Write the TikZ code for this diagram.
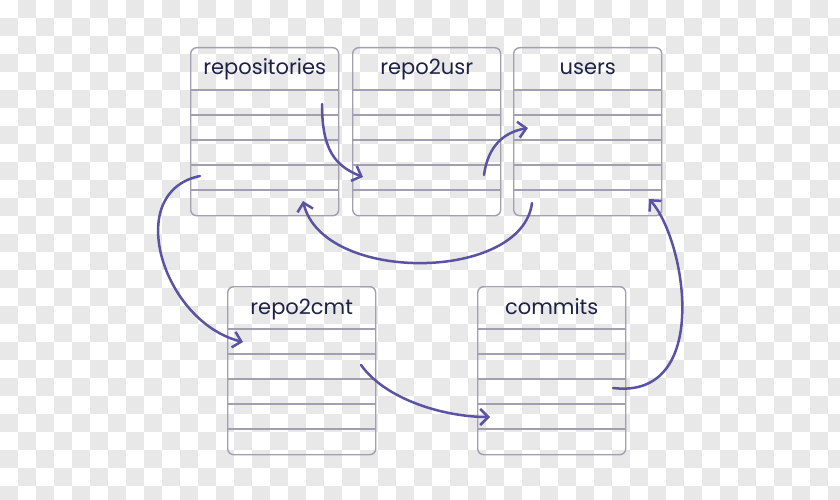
\documentclass[tikz,border=0pt]{standalone}
\usepackage{fontspec}
\setmainfont{Poppins}
\usetikzlibrary{arrows.meta,calc}

\definecolor{tblline}{HTML}{A19FB0}
\definecolor{tbltext}{HTML}{1E2245}
\definecolor{linkcol}{HTML}{5A52A3}
\definecolor{checker}{HTML}{E8E8E8}

\begin{document}
\begin{tikzpicture}[x=1pt,y=-1pt,
  tbl/.style={draw=tblline,line width=1.4pt,rounded corners=6pt,minimum width=148pt,
    minimum height=168pt,inner sep=0pt,anchor=north west},
  rowline/.style={tblline,line width=1.4pt},
  ttl/.style={text=tbltext,font=\fontsize{21}{24}\selectfont,anchor=base},
  link/.style={-{Straight Barb[length=8pt,width=16pt]},line width=2.5pt,linkcol,line cap=round},
]
  \useasboundingbox (0,0) rectangle (840,500);

  % transparency checker
  \fill[white] (0,0) rectangle (840,500);
  \begin{scope}
    \clip (0,0) rectangle (840,500);
    \foreach \j in {0,2,...,26}
      \foreach \i in {1,3,...,45}
        \fill[checker] (18*\i,18*\j) rectangle +(18,18);
    \foreach \j in {1,3,...,27}
      \foreach \i in {0,2,...,46}
        \fill[checker] (18*\i,18*\j) rectangle +(18,18);
  \end{scope}

  % tables
  \foreach \nm/\x/\y/\txt in {repos/190/47/repositories, r2u/352/47/repo2usr,
      users/513/47/users, r2c/227/286/repo2cmt, commits/477/286/commits} {
    \node[tbl] (\nm) at (\x,\y) {};
    \node[ttl] (\nm-t) at ($(\nm.north)+(0,28)$) {\txt};
    \foreach \k in {0,...,4}
      \draw[rowline] ($(\nm.north west)+(0,43+25*\k)$) -- ($(\nm.north east)+(0,43+25*\k)$);
  }

  % link end points
  \coordinate (s1) at (322,104);  \coordinate (e1) at (363,177);
  \coordinate (s2) at (484,175);  \coordinate (e2) at (528,128);
  \coordinate (s3) at (532,203);  \coordinate (e3) at (303,201);
  \coordinate (s4) at (200,176);  \coordinate (e4) at (243,342);
  \coordinate (s5) at (361,365);  \coordinate (e5) at (490,417);
  \coordinate (s6) at (613,388);  \coordinate (e6) at (649,199);

  \draw[link] (s1) .. controls (322,150) and (335,166) .. (e1);
  \draw[link] (s2) .. controls (488,145) and (505,132) .. (e2);
  \draw[link] (s3) .. controls (522,282) and (323,284) .. (e3);
  \draw[link] (s4) .. controls (122,192) and (163,322) .. (e4);
  \draw[link] (s5) .. controls (386,400) and (445,417) .. (e5);
  \draw[link] (s6) .. controls (712,400) and (686,240) .. (e6);
\end{tikzpicture}
\end{document}
